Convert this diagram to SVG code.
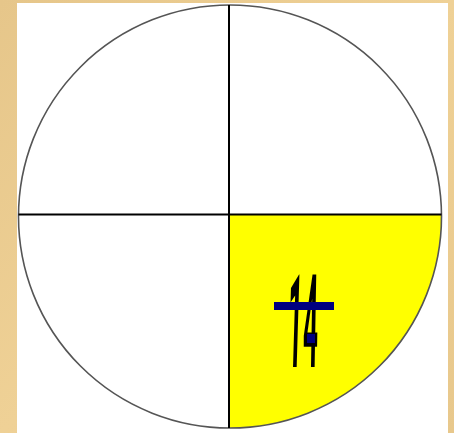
<svg xmlns="http://www.w3.org/2000/svg" width="454" height="433" viewBox="0 0 454 433">
  <defs>
    <linearGradient id="bg" x1="0" y1="0" x2="1" y2="1">
      <stop offset="0" stop-color="#E6C68A"/>
      <stop offset="0.5" stop-color="#EFD196"/>
      <stop offset="1" stop-color="#E8C88C"/>
    </linearGradient>
  </defs>
  <style>
    .digit { font-family: Roboto, "Liberation Sans", sans-serif; font-weight: bold; font-size: 130px; fill: #000; text-anchor: middle; }
    .axis { stroke: #000; stroke-width: 2; }
  </style>
  <rect id="background" x="0" y="0" width="454" height="433" fill="url(#bg)"/>
  <rect id="paper" x="17" y="3" width="431" height="430" fill="#FFFFFF"/>
  <g id="quadrant">
    <path d="M229,214.5 H441.5 A211.5,211.5 0 0 1 229,428 Z" fill="#FFFF00"/>
  </g>
  <g id="circle">
    <circle cx="230" cy="216.5" r="211.5" fill="none" stroke="#555555" stroke-width="1.6"/>
  </g>
  <g id="connectors">
    <line class="axis" x1="229" y1="5" x2="229" y2="428"/>
    <line class="axis" x1="18.5" y1="214.5" x2="441.5" y2="214.5"/>
  </g>
  <g id="fraction">
    <text class="digit" transform="translate(294,367) skewX(-1.7) scale(0.2,1.0)">1</text>
    <text class="digit" transform="translate(310,367) skewX(-1) scale(0.2,1.0)">4</text>
    <rect x="274" y="302" width="60" height="8" fill="#000080"/>
    <rect x="307" y="334" width="8" height="9" fill="#000080"/>
  </g>
</svg>
